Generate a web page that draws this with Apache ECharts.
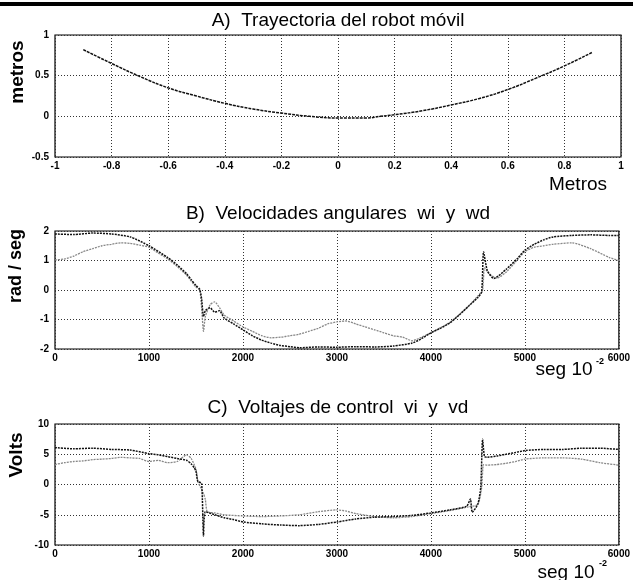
<!DOCTYPE html>
<html><head><meta charset="utf-8">
<script src="https://cdn.jsdelivr.net/npm/echarts@6/dist/echarts.min.js"></script>
<style>html,body{margin:0;padding:0;background:#fff}#c{width:633px;height:580px}</style>
</head><body><div id="c"></div>
<script>
// ---- Panel A: trajectory ----
const trajX = [-0.9,-0.8,-0.7,-0.6,-0.5,-0.4,-0.3,-0.2,-0.1,0,0.1,0.15,0.2,0.3,0.4,0.5,0.6,0.7,0.8,0.9];
const trajY = [0.82,0.65,0.49,0.35,0.25,0.16,0.09,0.04,0.0,-0.02,-0.02,0.0,0.02,0.07,0.14,0.22,0.33,0.47,0.62,0.79];

// ---- Panel B: angular velocities ----
const tB_dark = [0,200,400,600,800,1000,1200,1300,1400,1450,1500,1540,1560,1580,1600,1650,1700,1750,1800,1900,2000,2100,2200,2300,2400,2500,2600,2800,3000,3200,3400,3600,3800,3900,4000,4100,4200,4300,4400,4500,4540,4560,4600,4670,4800,4920,5000,5100,5200,5300,5500,5700,5900,6000];
const wd = [1.9,1.88,1.93,1.9,1.8,1.5,1.1,0.85,0.55,0.35,0.15,0.02,-0.3,-0.9,-0.7,-0.6,-0.75,-0.7,-0.95,-1.15,-1.35,-1.55,-1.7,-1.8,-1.88,-1.92,-1.96,-1.93,-1.94,-1.92,-1.93,-1.9,-1.8,-1.65,-1.45,-1.3,-1.12,-0.85,-0.55,-0.25,-0.07,1.3,0.66,0.39,0.7,1.07,1.35,1.55,1.7,1.8,1.85,1.87,1.85,1.85];
const tB_light = [0,100,200,300,400,500,600,700,800,900,1000,1100,1200,1300,1400,1500,1540,1560,1580,1600,1650,1700,1750,1800,1900,2000,2100,2200,2300,2400,2500,2600,2700,2800,2900,3000,3100,3200,3300,3400,3500,3600,3700,3800,3900,4000,4200,4400,4500,4550,4570,4620,4700,4800,4900,5000,5100,5200,5300,5500,5700,5900,6000];
const wi = [1.02,1.05,1.15,1.3,1.4,1.5,1.55,1.6,1.58,1.52,1.45,1.25,1.05,0.8,0.5,0.1,0.0,-0.6,-1.4,-0.9,-0.5,-0.4,-0.6,-0.85,-1.05,-1.25,-1.4,-1.55,-1.62,-1.6,-1.55,-1.5,-1.4,-1.3,-1.15,-1.08,-1.05,-1.15,-1.25,-1.35,-1.45,-1.55,-1.6,-1.72,-1.6,-1.45,-1.1,-0.55,-0.2,0.0,0.75,0.55,0.4,0.6,0.95,1.3,1.45,1.5,1.55,1.6,1.4,1.1,1.0];

// ---- Panel C: control voltages ----
const tC_dark = [0,200,400,600,800,1000,1100,1200,1300,1400,1450,1480,1500,1520,1560,1580,1600,1700,1800,1900,2000,2200,2400,2600,2800,3000,3200,3400,3600,3800,4000,4200,4380,4420,4440,4500,4530,4550,4570,4600,4700,4800,4900,5000,5200,5400,5600,5800,6000];
const vd = [6.1,5.9,6.0,5.8,5.7,5.1,4.9,4.6,4.3,4.0,3.4,2.8,2.2,0.5,0.2,-8.5,-4.5,-5.0,-5.5,-5.8,-6.2,-6.5,-6.7,-6.8,-6.6,-6.2,-5.7,-5.4,-5.3,-5.1,-4.7,-4.2,-3.6,-2.4,-4.6,-3.2,-0.5,7.5,4.6,4.5,4.7,5.0,5.3,5.6,5.8,5.8,6.0,6.0,5.8];
const tC_light = [0,100,200,300,400,500,600,700,800,900,1000,1100,1200,1300,1400,1450,1500,1520,1550,1580,1600,1620,1700,1800,2000,2200,2400,2600,2800,3000,3100,3200,3400,3600,3800,4000,4200,4400,4500,4540,4560,4600,4700,4800,4900,5000,5200,5400,5600,5800,6000];
const vi = [3.3,3.6,3.8,3.9,4.1,4.2,4.3,4.5,4.4,4.3,3.8,4.0,3.6,3.8,4.9,4.3,2.5,0.5,-0.5,-1.5,-2.5,-4.5,-4.7,-5.0,-5.2,-5.3,-5.2,-5.0,-4.5,-4.2,-4.4,-4.8,-5.3,-5.5,-5.3,-4.8,-4.3,-3.7,-3.3,-0.5,3.3,3.2,3.3,3.5,3.8,4.2,4.4,4.4,4.2,3.6,3.2];

// tick label lists
const ticksA_x = [-1,-0.8,-0.6,-0.4,-0.2,0,0.2,0.4,0.6,0.8,1];
const ticksA_y = [-0.5,0,0.5,1];
const ticksT = [0,1000,2000,3000,4000,5000,6000];
const ticksB_y = [-2,-1,0,1,2];
const ticksC_y = [-10,-5,0,5,10];

const zip = (a,b)=>a.map((v,i)=>[v,b[i]]);
const FONT = '"Liberation Sans", Arial, sans-serif';
const lab = {color:'#000',fontWeight:'bold',fontSize:10,fontFamily:FONT,formatter:v=>String(Math.round(v*100)/100)};
const split = {show:true,lineStyle:{color:'#333',type:[1,2],width:1}};
const axisLine = {show:false};

function xAx(gi,min,max,intv){return {gridIndex:gi,type:'value',min,max,interval:intv,axisLine,axisTick:{show:false},splitLine:split,axisLabel:Object.assign({margin:4},lab)};}
function yAx(gi,min,max,intv){return {gridIndex:gi,type:'value',min,max,interval:intv,axisLine,axisTick:{show:false},splitLine:split,axisLabel:Object.assign({margin:6},lab)};}

const grids = [
  {left:55,top:35,width:566,height:122,show:true,borderColor:'#000',borderWidth:1.2},
  {left:55,top:231,width:566,height:118,show:true,borderColor:'#000',borderWidth:1.2},
  {left:55,top:424,width:566,height:121,show:true,borderColor:'#000',borderWidth:1.2}
];

function txt(x,y,t,size,weight,rot){return {type:'text',x,y,rotation:rot||0,style:{text:t,fill:'#000',font:(weight||'normal')+' '+size+'px '+FONT,textAlign:'center',textVerticalAlign:'middle'}};}

const option = {
  animation:false,
  backgroundColor:'#fff',
  grid:grids,
  xAxis:[xAx(0,ticksA_x[0],ticksA_x[ticksA_x.length-1],0.2),xAx(1,ticksT[0],ticksT[ticksT.length-1],1000),xAx(2,ticksT[0],ticksT[ticksT.length-1],1000)],
  yAxis:[yAx(0,ticksA_y[0],ticksA_y[ticksA_y.length-1],0.5),yAx(1,ticksB_y[0],ticksB_y[ticksB_y.length-1],1),yAx(2,ticksC_y[0],ticksC_y[ticksC_y.length-1],5)],
  series:[
    {type:'line',xAxisIndex:0,yAxisIndex:0,data:zip(trajX,trajY),symbol:'none',smooth:true,lineStyle:{color:'#111',width:1.5,type:[3,1]}},
    {type:'line',xAxisIndex:1,yAxisIndex:1,data:zip(tB_light,wi),symbol:'none',smooth:0.2,lineStyle:{color:'#888',width:1.3,type:[2,1]}},
    {type:'line',xAxisIndex:1,yAxisIndex:1,data:zip(tB_dark,wd),symbol:'none',smooth:0.2,lineStyle:{color:'#111',width:1.5,type:[2,1]}},
    {type:'line',xAxisIndex:2,yAxisIndex:2,data:zip(tC_light,vi),symbol:'none',smooth:0.2,lineStyle:{color:'#888',width:1.3,type:[2,1]}},
    {type:'line',xAxisIndex:2,yAxisIndex:2,data:zip(tC_dark,vd),symbol:'none',smooth:0.2,lineStyle:{color:'#111',width:1.5,type:[2,1]}}
  ],
  graphic:[
    {type:'rect',shape:{x:0,y:2,width:633,height:4},style:{fill:'#000'}},
    txt(338,21,'A)  Trayectoria del robot móvil',19,'normal'),
    txt(338,214,'B)  Velocidades angulares  wi  y  wd',19,'normal'),
    txt(338,408,'C)  Voltajes de control  vi  y  vd',19,'normal'),
    txt(18,72,'metros',19,'bold',Math.PI/2),
    txt(16,266,'rad / seg',18,'bold',Math.PI/2),
    txt(17,455,'Volts',19,'bold',Math.PI/2),
    txt(578,185,'Metros',19,'normal'),
    txt(564,370,'seg 10',19,'normal'),
    txt(600,362,'-2',9,'bold'),
    txt(566,573,'seg 10',19,'normal'),
    txt(603,564,'-2',9,'bold')
  ]
};
echarts.init(document.getElementById('c'),null,{renderer:'canvas'}).setOption(option);
</script></body></html>
